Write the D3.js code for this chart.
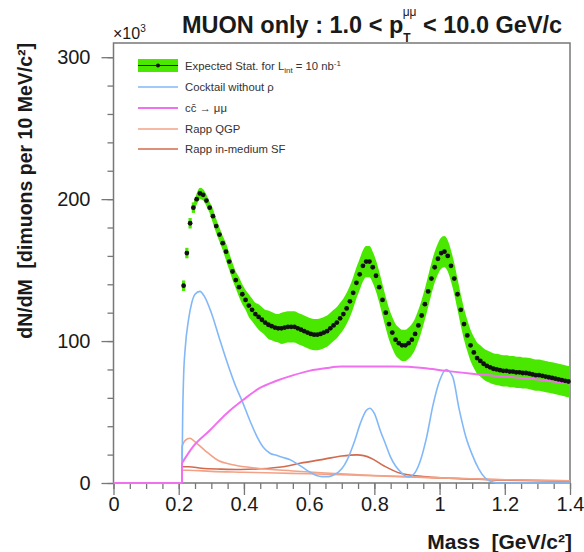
<!DOCTYPE html>
<html>
<head>
<meta charset="utf-8">
<script src="https://cdn.jsdelivr.net/npm/d3@7/dist/d3.min.js"></script>
<style>
  html, body { margin: 0; padding: 0; background: #fff; }
  svg { display: block; font-family: "Liberation Sans", Arial, Helvetica, sans-serif; }
</style>
</head>
<body>
<div id="chart"></div>
<script>
// expected dimuon spectrum, 10 MeV bins from the 2*m_mu threshold
const binLow = 0.21;
const binWidth = 0.01;
const expected = [
  139, 162, 183, 194, 200, 204, 203, 199, 194, 188,
  181, 175, 169, 163, 156, 149, 143, 138, 133, 129,
  125, 122, 119, 117, 115, 113, 111.5, 110.5, 109.5, 109,
  109, 109.5, 110, 110, 110, 109, 108, 107, 106, 105,
  104.5, 104.5, 105, 106, 107, 109, 111, 113, 116, 119,
  123, 128, 134, 141, 147, 153, 156, 156, 152, 146,
  138, 129, 120, 112, 106, 101, 98.5, 97, 97, 98.5,
  101, 105, 111, 118, 126, 135, 144, 152, 158, 162,
  163, 160, 153, 144, 133, 122, 112, 104, 97, 92,
  88, 86, 84, 82.5, 81.5, 80.5, 80, 79.5, 79, 79,
  78.5, 78.5, 78, 78, 77.5, 77.5, 77, 76.5, 76, 76,
  75.5, 75, 74.5, 74, 73.5, 73, 72.5, 72, 71.5,
];
const expectedErr = [
  3, 3, 3, 3, 4, 4, 4, 4, 4, 5,
  5, 5, 5, 6, 6, 6, 6, 7, 7, 7,
  8, 8, 8, 9, 9, 9, 10, 10, 10, 10,
  11, 11, 11, 11, 11, 11, 11, 11, 11, 11,
  11, 11, 11, 11, 11, 11, 11, 11, 11, 11,
  11, 11, 11, 11, 11, 11, 11, 11, 11, 11,
  11, 11, 11, 11, 11, 11, 11, 11, 11, 11,
  11, 11, 11, 11, 11, 11, 11, 11, 11, 11,
  11, 11, 11, 11, 11, 11, 11, 11, 11, 11,
  11, 11, 11, 11, 11, 11, 11, 11, 11, 11,
  11, 11, 11, 11, 11, 11, 11, 11, 11, 11,
  11, 11, 11, 11, 11, 11, 11, 11, 11,
];

const cocktailMass = [0.21, 0.212, 0.215, 0.22, 0.23, 0.24, 0.25, 0.265, 0.28, 0.30,
  0.326, 0.35, 0.375, 0.393, 0.42, 0.44, 0.46, 0.48, 0.50, 0.52,
  0.54, 0.56, 0.58, 0.60, 0.62, 0.64, 0.66, 0.675, 0.70, 0.716,
  0.74, 0.757, 0.775, 0.786, 0.80, 0.818, 0.835, 0.849, 0.865, 0.88,
  0.895, 0.906, 0.92, 0.94, 0.96, 0.98, 1.0, 1.02, 1.04, 1.06,
  1.08, 1.10, 1.12, 1.14, 1.16, 1.18, 1.4];
const cocktailVal = [0, 45, 75, 95, 115, 127, 133, 135, 131, 120,
  101, 84, 68, 58.6, 43, 32.7, 25, 21, 19.5, 18,
  16.5, 14, 11, 8, 5.5, 4.5, 4.5, 5.6, 10, 16,
  30, 42, 51, 52.7, 49, 37, 27, 18.6, 12, 8,
  5, 4.5, 6, 15, 32, 55, 72, 80, 75, 52,
  33, 20, 10, 3.5, 0.8, 0, 0];

const charmMass = [0.21, 0.244, 0.295, 0.347, 0.398, 0.449, 0.50, 0.552, 0.60, 0.654,
  0.70, 0.757, 0.86, 0.95, 1.02, 1.10, 1.20, 1.30, 1.40];
const charmVal = [14, 25.6, 37, 49, 58.6, 67, 72, 76, 79, 81,
  82, 82, 82, 81, 79, 77, 75, 73, 70];

const rappQgpMass = [0.21, 0.22, 0.234, 0.25, 0.28, 0.32, 0.37, 0.44, 0.55, 0.65, 0.8, 1.0, 1.2, 1.4];
const rappQgpVal = [26, 30, 31.5, 29, 23, 16, 12.7, 10.4, 8.5, 7, 5.3, 3.6, 2.3, 1.5];

const rappSfMass = [0.21, 0.23, 0.27, 0.33, 0.39, 0.45, 0.52, 0.572, 0.65, 0.70,
  0.747, 0.79, 0.83, 0.88, 0.95, 1.03, 1.19, 1.4];
const rappSfVal = [11.5, 11.5, 10.4, 9.8, 9.5, 10, 11.5, 13.9, 17, 19,
  19.8, 17.5, 12, 6.8, 4.5, 3.3, 2.1, 1.2];

const rappLowMass = [0.21, 0.23, 0.30, 0.40, 0.50, 0.60, 0.70, 0.88, 1.0, 1.2, 1.4];
const rappLowVal = [9, 9, 8.2, 7.6, 7, 6.5, 5.8, 4.5, 3.5, 2.2, 1.5];

const xTicks = [0, 0.2, 0.4, 0.6, 0.8, 1, 1.2, 1.4];
const yTicks = [0, 100, 200, 300];

const W = 584;
const H = 552;
const green = '#4ae800';
const colors = {
  cocktail: '#82b8f8',
  charm: '#f070f0',
  qgp: '#f2a286',
  sf: '#d26a4e',
};

const svg = d3.select('#chart').append('svg')
  .attr('width', W)
  .attr('height', H);

const x = d3.scaleLinear().domain([0, 1.4]).range([113.5, 570]);
const y = d3.scaleLinear().domain([0, 310]).range([483, 43]);

const axisColor = '#777';
const textColor = '#1a1a1a';

// minor ticks first, then major ticks with labels
const xMinor = svg.append('g')
  .attr('transform', `translate(0,${y(0)})`)
  .call(d3.axisBottom(x).tickValues(d3.range(0, 1.401, 0.05)).tickSize(6).tickFormat(''));
const xAxis = svg.append('g')
  .attr('transform', `translate(0,${y(0)})`)
  .call(d3.axisBottom(x).tickValues(xTicks).tickSize(12).tickPadding(2)
    .tickFormat((d) => d3.format('~g')(d)));
const yMinor = svg.append('g')
  .attr('transform', `translate(${x(0)},0)`)
  .call(d3.axisLeft(y).tickValues(d3.range(0, 301, 20)).tickSize(6).tickFormat(''));
const yAxis = svg.append('g')
  .attr('transform', `translate(${x(0)},0)`)
  .call(d3.axisLeft(y).tickValues(yTicks).tickSize(12).tickPadding(11));

[xMinor, xAxis, yMinor, yAxis].forEach((a) => {
  a.select('.domain').remove();
  a.selectAll('line').attr('stroke', axisColor).attr('stroke-width', 1.3);
  a.selectAll('text').attr('fill', textColor).style('font-size', '20px');
});

// frame
svg.append('rect')
  .attr('x', x(0))
  .attr('y', y(310))
  .attr('width', x(1.4) - x(0))
  .attr('height', y(0) - y(310))
  .attr('fill', 'none')
  .attr('stroke', axisColor)
  .attr('stroke-width', 1.5);

const plot = svg.append('g');

// stat error band: separate boxes on the steep threshold bins, smooth band after
const bins = expected.map((v, i) => ({
  lo: binLow + i * binWidth,
  hi: binLow + (i + 1) * binWidth,
  mid: binLow + (i + 0.5) * binWidth,
  v,
  e: expectedErr[i],
}));

plot.append('g')
  .selectAll('rect')
  .data(bins.slice(0, 4))
  .join('rect')
  .attr('x', (d) => x(d.lo))
  .attr('width', (d) => x(d.hi) - x(d.lo))
  .attr('y', (d) => y(d.v + d.e) - 1)
  .attr('height', (d) => y(d.v - d.e) - y(d.v + d.e) + 2)
  .attr('fill', green);

const band = bins.slice(3);
band.push({ mid: 1.4, v: expected[expected.length - 1], e: expectedErr[expectedErr.length - 1] });
plot.append('path')
  .datum(band)
  .attr('fill', green)
  .attr('d', d3.area()
    .x((d) => x(d.mid))
    .y0((d) => y(d.v - d.e))
    .y1((d) => y(d.v + d.e))
    .curve(d3.curveMonotoneX));

function drawCurve(masses, vals, color, width) {
  const pts = masses.map((m, i) => [m, vals[i]]);
  const g = plot.append('g')
    .attr('fill', 'none')
    .attr('stroke', color)
    .attr('stroke-width', width);
  // vertical rise at the threshold
  g.append('path')
    .attr('d', d3.line()([[x(pts[0][0]), y(0)], [x(pts[0][0]), y(pts[0][1])]]));
  g.append('path')
    .attr('d', d3.line()
      .x((d) => x(d[0]))
      .y((d) => y(d[1]))
      .curve(d3.curveMonotoneX)(pts));
}

drawCurve(rappLowMass, rappLowVal, colors.qgp, 1.6);
drawCurve(rappSfMass, rappSfVal, colors.sf, 1.6);
drawCurve(rappQgpMass, rappQgpVal, colors.qgp, 1.6);
drawCurve(cocktailMass, cocktailVal, colors.cocktail, 1.6);
drawCurve(charmMass, charmVal, colors.charm, 2);

// charm below threshold sits on zero
plot.append('path')
  .attr('d', d3.line()([[x(0), y(0)], [x(charmMass[0]), y(0)]]))
  .attr('stroke', colors.charm)
  .attr('stroke-width', 2);

plot.append('g')
  .selectAll('circle')
  .data(bins)
  .join('circle')
  .attr('cx', (d) => x(d.mid))
  .attr('cy', (d) => y(d.v))
  .attr('r', 2.4)
  .attr('fill', '#111');

// legend
const legend = svg.append('g').style('font-size', '11.3px').attr('fill', '#333');
const rowsY = [65.5, 87, 108, 129, 149];
const lx0 = 138;
const lx1 = 178;

legend.append('rect')
  .attr('x', lx0).attr('y', rowsY[0] - 6.5)
  .attr('width', lx1 - lx0).attr('height', 13)
  .attr('fill', green);
legend.append('line')
  .attr('x1', lx0).attr('x2', lx1)
  .attr('y1', rowsY[0]).attr('y2', rowsY[0])
  .attr('stroke', '#111').attr('stroke-width', 1);
legend.append('circle')
  .attr('cx', (lx0 + lx1) / 2).attr('cy', rowsY[0]).attr('r', 2)
  .attr('fill', '#111');

const t0 = legend.append('text').attr('x', 185).attr('y', rowsY[0] + 4);
t0.append('tspan').text('Expected Stat. for L');
t0.append('tspan').attr('dy', 3).style('font-size', '8px').text('int');
t0.append('tspan').attr('dy', -3).text(' = 10 nb');
t0.append('tspan').attr('dy', -4).style('font-size', '8px').text('-1');

const lineRows = [
  { label: 'Cocktail without ρ', color: colors.cocktail, w: 1.6 },
  { label: 'cc\u0304 → μμ', color: colors.charm, w: 2 },
  { label: 'Rapp QGP', color: colors.qgp, w: 1.6 },
  { label: 'Rapp in-medium SF', color: colors.sf, w: 1.6 },
];
lineRows.forEach((r, i) => {
  const yy = rowsY[i + 1];
  legend.append('line')
    .attr('x1', lx0).attr('x2', lx1)
    .attr('y1', yy).attr('y2', yy)
    .attr('stroke', r.color).attr('stroke-width', r.w);
  legend.append('text').attr('x', 185).attr('y', yy + 4).text(r.label);
});

// title
const title = svg.append('text')
  .attr('x', 182).attr('y', 33)
  .attr('fill', textColor)
  .style('font-size', '23.5px')
  .style('font-weight', 'bold');
title.append('tspan').text('MUON only : 1.0 < p');
title.append('tspan').attr('dy', 9).style('font-size', '12px').text('T');
title.append('tspan').attr('dx', -8).attr('dy', -26).style('font-size', '12px')
  .style('font-weight', 'normal').text('μμ');
title.append('tspan').attr('dy', 17).text('\u00a0< 10.0 GeV/c');

// x10^3 exponent
const expo = svg.append('text')
  .attr('x', 113).attr('y', 39)
  .attr('fill', textColor)
  .style('font-size', '16px');
expo.append('tspan').text('×10');
expo.append('tspan').attr('dy', -7).style('font-size', '10px').text('3');

// axis titles
svg.append('text')
  .attr('x', 572).attr('y', 549)
  .attr('text-anchor', 'end')
  .attr('fill', textColor)
  .style('font-size', '21px')
  .style('font-weight', 'bold')
  .text('Mass\u00a0\u00a0[GeV/c²]');

svg.append('text')
  .attr('transform', 'translate(32,43) rotate(-90)')
  .attr('text-anchor', 'end')
  .attr('fill', textColor)
  .style('font-size', '19.5px')
  .style('font-weight', 'bold')
  .text('dN/dM\u00a0\u00a0[dimuons per 10 MeV/c²]');
</script>
</body>
</html>
